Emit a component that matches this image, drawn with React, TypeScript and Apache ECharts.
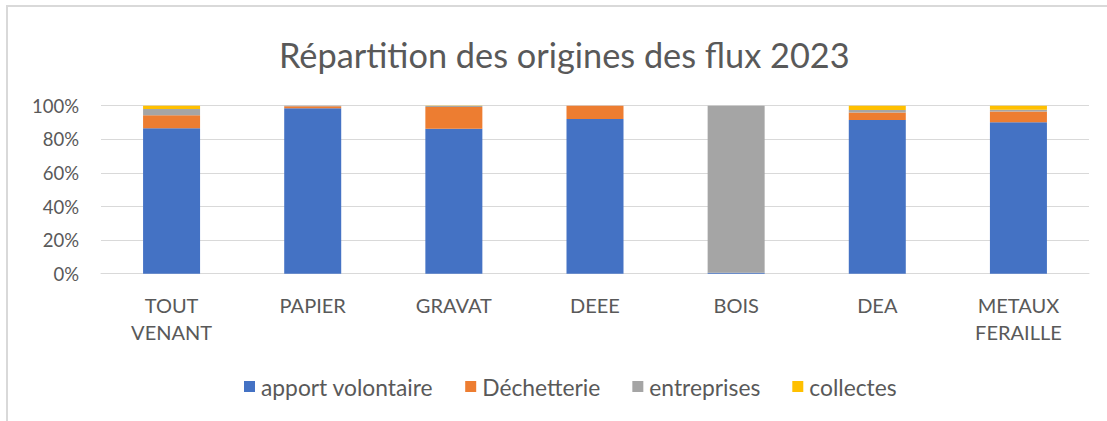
import React, { useEffect, useRef } from "react";
import * as echarts from "echarts";

const categories = ["TOUT\nVENANT", "PAPIER", "GRAVAT", "DEEE", "BOIS", "DEA", "METAUX\nFERAILLE"];
const apportVolontaire = [86.6, 98.5, 86.3, 92.1, 0.5, 91.5, 90.1];
const dechetterie = [7.7, 1.2, 13.0, 7.9, 0, 4.4, 6.5];
const entreprises = [3.8, 0.3, 0.5, 0, 99.5, 1.6, 1.0];
const collectes = [1.9, 0, 0.2, 0, 0, 2.5, 2.4];
const yTicks = [0, 20, 40, 60, 80, 100];

const FONT = "Lato, 'Open Sans', sans-serif";
const TXT = "#595959";

export default function App() {
  const ref = useRef<HTMLDivElement>(null);
  useEffect(() => {
    document.body.style.margin = "0";
    const chart = echarts.init(ref.current!, null, { renderer: "svg" });
    const mk = (name: string, data: number[], color: string) => ({
      name,
      type: "bar",
      stack: "total",
      data,
      barWidth: 57,
      itemStyle: { color },
    });
    chart.setOption({
      animation: false,
      backgroundColor: "#ffffff",
      textStyle: { fontFamily: FONT },
      title: {
        text: "Répartition des origines des flux 2023",
        left: 274,
        top: 32,
        textStyle: { fontFamily: FONT, fontSize: 34.3, fontWeight: "normal", color: TXT },
      },
      graphic: [
        {
          type: "rect",
          shape: { x: 7, y: 6, width: 1200, height: 500 },
          style: { fill: "none", stroke: "#d9d9d9", lineWidth: 2 },
          silent: true,
          z: -1,
        },
      ],
      legend: {
        top: 370,
        left: 239,
        itemWidth: 11,
        itemHeight: 11,
        itemGap: 32,
        icon: "rect",
        textStyle: { fontFamily: FONT, fontSize: 22.8, color: TXT, padding: [0, 0, 0, 1] },
        data: ["apport volontaire", "Déchetterie", "entreprises", "collectes"],
      },
      grid: { left: 101, right: 18, top: 105.7, bottom: 147.3, containLabel: false },
      xAxis: {
        type: "category",
        data: categories,
        axisLine: { show: true, lineStyle: { color: "#d9d9d9", width: 1 } },
        axisTick: { show: false },
        axisLabel: { fontFamily: FONT, fontSize: 20, color: TXT, margin: 18, lineHeight: 27 },
      },
      yAxis: {
        type: "value",
        min: 0,
        max: 100,
        interval: 20,
        axisLine: { show: false },
        axisTick: { show: false },
        splitLine: { lineStyle: { color: "#d9d9d9", width: 1 } },
        axisLabel: {
          fontFamily: FONT,
          fontSize: 18.5,
          color: TXT,
          margin: 22,
          formatter: (v: number) => (yTicks.includes(v) ? v + "%" : ""),
        },
      },
      series: [
        mk("apport volontaire", apportVolontaire, "#4472C4"),
        mk("Déchetterie", dechetterie, "#ED7D31"),
        mk("entreprises", entreprises, "#A5A5A5"),
        mk("collectes", collectes, "#FFC000"),
      ],
    });
    return () => chart.dispose();
  }, []);
  return <div ref={ref} style={{ width: 1107, height: 421 }} />;
}
